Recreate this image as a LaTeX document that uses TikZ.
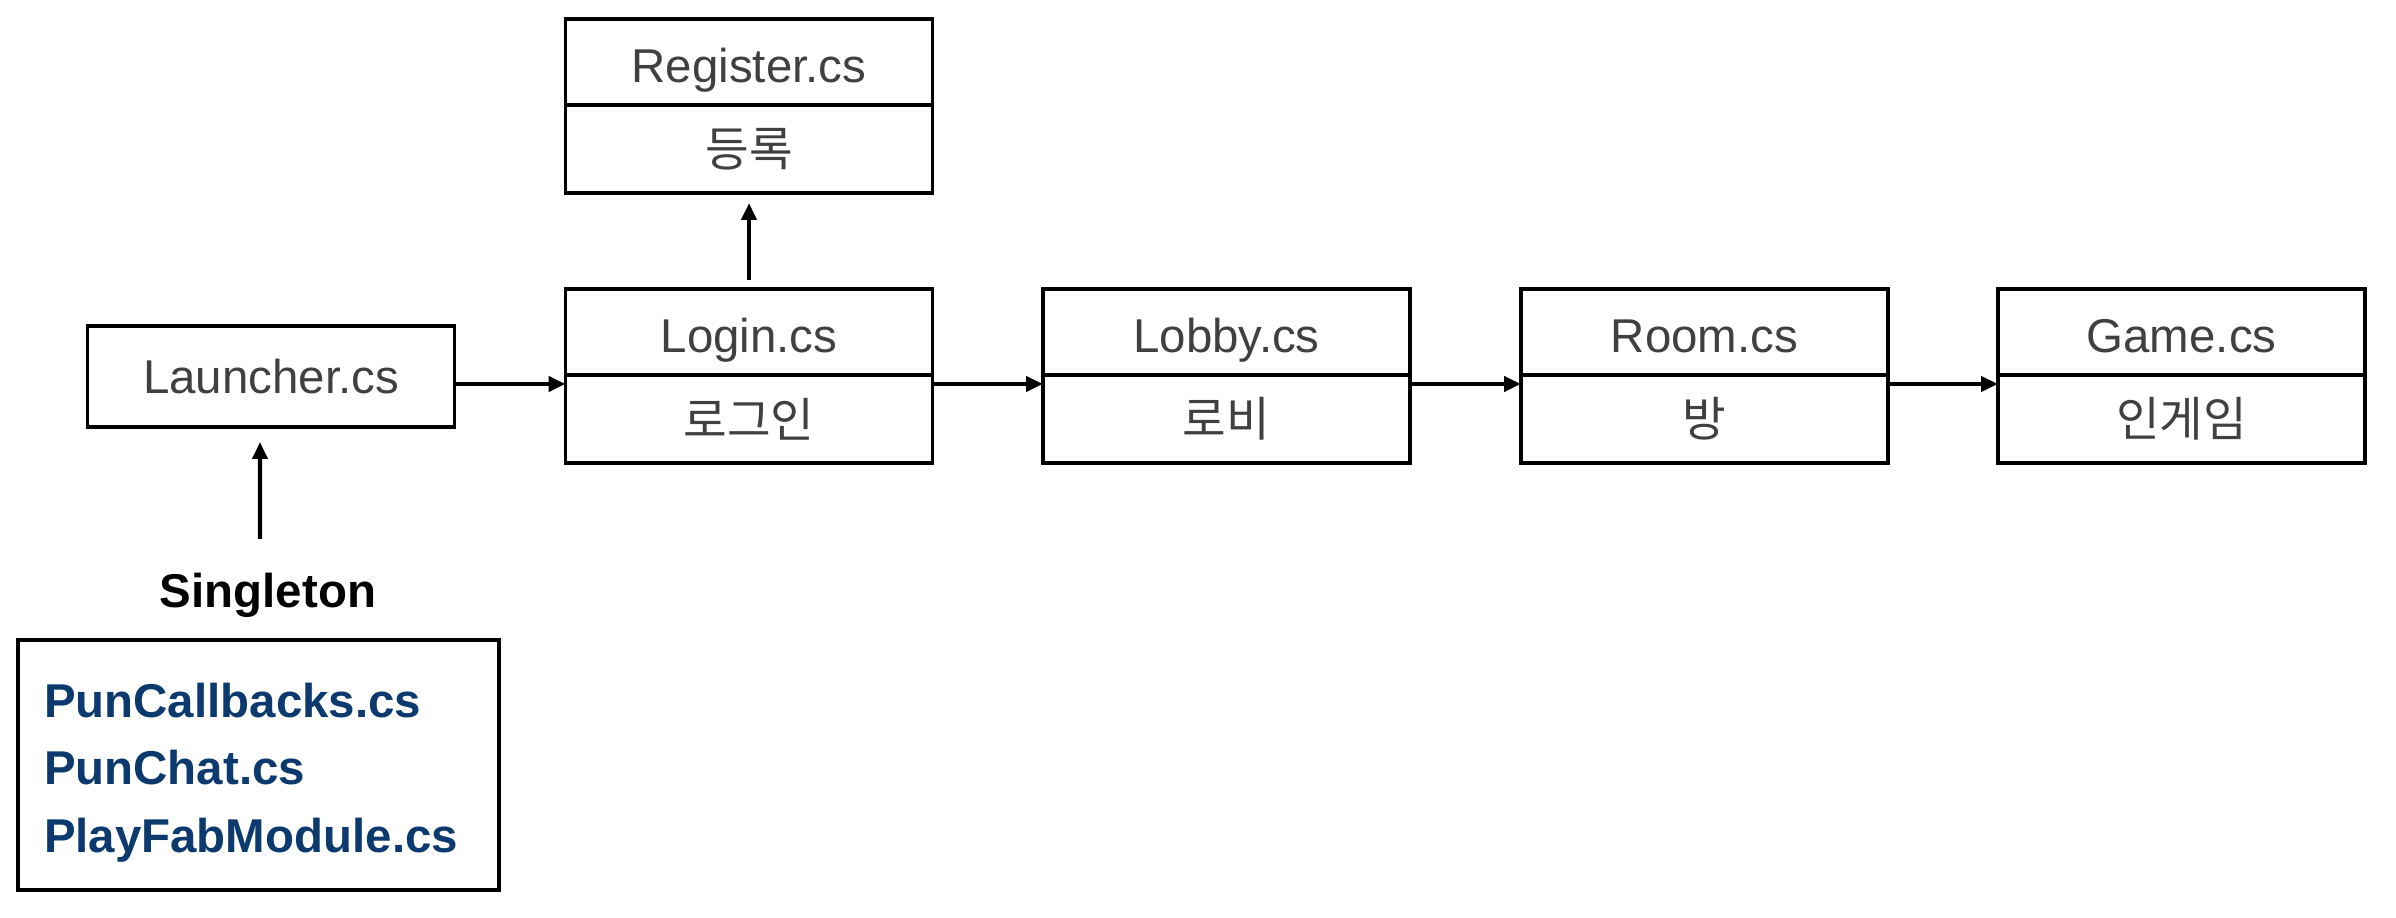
\documentclass[tikz,border=0pt]{standalone}
\usepackage{fontspec}
\setmainfont{Liberation Sans}
\newfontfamily\krfont{Noto Sans CJK KR}
\usetikzlibrary{arrows.meta}
\definecolor{textgray}{RGB}{64,64,64}
\definecolor{punblue}{RGB}{12,58,110}
\def\boxw{3.67cm}
\def\arrowy{-0.09cm}

\begin{document}
\begin{tikzpicture}[x=1cm, y=1cm,
    every node/.style={font=\fontsize{13.5}{16}\selectfont},
    part/.style={draw, line width=0.9pt, outer sep=0pt, minimum width=\boxw, minimum height=0.86cm, inner sep=0pt, text height=0.5cm, text depth=0.09cm, text=textgray},
    kpart/.style={part, minimum height=0.88cm, text height=, text depth=, font=\fontsize{13.5}{16}\selectfont\krfont},
    arr/.style={line width=1.2pt, -{Triangle[length=0.17cm, width=0.15cm]}}]
    \useasboundingbox (0,0) rectangle (23.96,9.18);

    % launcher
    \node[part, minimum height=1.01cm, text height=0.34cm, text depth=0cm] (launcher) at (2.71,5.415) {Launcher.cs};

    % scenes
    \node[part] (register) at (7.49,8.56) {Register.cs};
    \node[kpart, anchor=north] (registerK) at (register.south) {등록};
    \node[part] (login) at (7.49,5.86) {Login.cs};
    \node[kpart, anchor=north] (loginK) at (login.south) {로그인};
    \node[part] (lobby) at (12.265,5.86) {Lobby.cs};
    \node[kpart, anchor=north] (lobbyK) at (lobby.south) {로비};
    \node[part] (room) at (17.045,5.86) {Room.cs};
    \node[kpart, anchor=north] (roomK) at (room.south) {방};
    \node[part] (game) at (21.815,5.86) {Game.cs};
    \node[kpart, anchor=north] (gameK) at (game.south) {인게임};

    % singletons
    \node[anchor=base, inner sep=0pt, font=\fontsize{13.5}{16}\selectfont\bfseries] (single) at (2.68,3.10) {Singleton};
    \node[draw, line width=0.9pt, minimum width=4.81cm, minimum height=2.5cm] (singles) at (2.585,1.53) {};
    \node[text width=4.29cm, inner sep=0pt, align=left, text=punblue, font=\fontsize{13.5}{19.2}\selectfont\bfseries] (singlesList) at (2.585,1.455) {PunCallbacks.cs\\PunChat.cs\\PlayFabModule.cs};

    % arrows
    \draw[arr] ([yshift=\arrowy]launcher.east |- login.south) -- ([yshift=\arrowy]login.south west);
    \draw[arr] ([yshift=\arrowy]login.south east) -- ([yshift=\arrowy]lobby.south west);
    \draw[arr] ([yshift=\arrowy]lobby.south east) -- ([yshift=\arrowy]room.south west);
    \draw[arr] ([yshift=\arrowy]room.south east) -- ([yshift=\arrowy]game.south west);
    \draw[arr] ([yshift=0.09cm]login.north) -- ([yshift=-0.1cm]registerK.south);
    \draw[arr] ([xshift=-0.08cm, yshift=0.34cm]single.north) -- ([xshift=-0.11cm, yshift=-0.15cm]launcher.south);
\end{tikzpicture}
\end{document}
